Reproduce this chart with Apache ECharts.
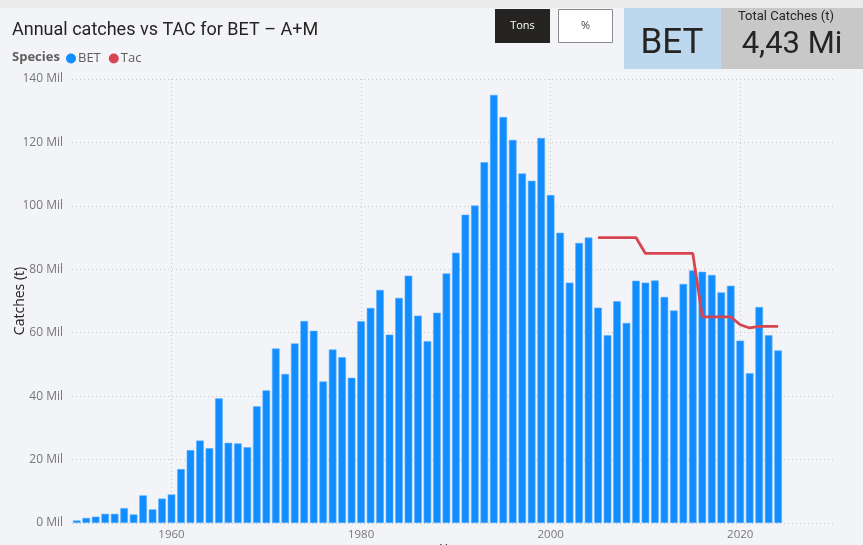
<!DOCTYPE html>
<html>
<head>
<meta charset="utf-8">
<script src="https://cdn.jsdelivr.net/npm/echarts@6/dist/echarts.min.js"></script>
<style>
  html, body { margin: 0; padding: 0; background: #f3f4f8; }
  #chart { width: 863px; height: 545px; }
</style>
</head>
<body>
<div id="chart"></div>
<script>
// Bigeye tuna (BET) annual catches, in thousands of tonnes ("Mil")
const years = [
  1950, 1951, 1952, 1953, 1954, 1955, 1956, 1957, 1958, 1959,
  1960, 1961, 1962, 1963, 1964, 1965, 1966, 1967, 1968, 1969,
  1970, 1971, 1972, 1973, 1974, 1975, 1976, 1977, 1978, 1979,
  1980, 1981, 1982, 1983, 1984, 1985, 1986, 1987, 1988, 1989,
  1990, 1991, 1992, 1993, 1994, 1995, 1996, 1997, 1998, 1999,
  2000, 2001, 2002, 2003, 2004, 2005, 2006, 2007, 2008, 2009,
  2010, 2011, 2012, 2013, 2014, 2015, 2016, 2017, 2018, 2019,
  2020, 2021, 2022, 2023, 2024
];
const catches = [
  0.8, 1.6, 2.0, 2.9, 2.9, 4.7, 2.7, 8.7, 4.3, 7.7,
  9.0, 17.0, 23.0, 26.0, 23.6, 39.3, 25.3, 25.1, 23.9, 36.8,
  41.8, 55.0, 47.0, 56.6, 63.7, 60.6, 44.6, 54.7, 52.3, 45.8,
  63.6, 67.8, 73.5, 59.4, 71.0, 78.0, 65.4, 57.3, 66.3, 78.7,
  85.2, 97.2, 100.1, 113.8, 135.0, 128.0, 120.8, 110.2, 107.9, 121.4,
  103.4, 91.5, 75.8, 88.3, 90.0, 67.9, 59.2, 69.9, 63.1, 76.4,
  75.8, 76.5, 71.3, 67.0, 75.4, 79.6, 79.2, 78.2, 72.7, 74.8,
  57.5, 47.2, 68.1, 59.2, 54.4
];

// Total allowable catch (TAC), thousands of tonnes
const tacYears = [2005, 2006, 2007, 2008, 2009, 2010, 2011, 2012, 2013, 2014,
                  2015, 2016, 2017, 2018, 2019, 2020, 2021, 2022, 2023, 2024];
const tacValues = [90, 90, 90, 90, 90, 85, 85, 85, 85, 85,
                   85, 65, 65, 65, 65, 62.5, 61.5, 62, 62, 62];

const yearTicks = [1960, 1980, 2000, 2020];
const yTickStep = 20;

const barData = years.map((y, i) => [y, catches[i]]);
const tacData = tacYears.map((y, i) => [y, tacValues[i]]);

const uiFont = '"Open Sans", "Noto Sans", sans-serif';
const headFont = 'Roboto, "Noto Sans", sans-serif';

const chart = echarts.init(document.getElementById('chart'), null, { renderer: 'canvas' });

chart.setOption({
  backgroundColor: '#f3f4f8',
  animation: false,
  title: {
    text: 'Annual catches vs TAC for BET – A+M',
    left: 12, top: 21, padding: 0,
    textStyle: { fontFamily: headFont, fontSize: 18, fontWeight: 'normal', color: '#252423' }
  },
  legend: {
    left: 66, top: 52, padding: 0,
    icon: 'circle',
    itemWidth: 10, itemHeight: 10, itemGap: 8,
    itemStyle: { borderWidth: 0 },
    textStyle: { fontFamily: uiFont, fontSize: 13, color: '#605e5c', padding: [0, 0, 0, -3] },
    data: ['BET', 'Tac']
  },
  grid: { left: 72, right: 28, top: 79, bottom: 22, outerBoundsMode: 'none', containLabel: false },
  xAxis: {
    type: 'value',
    min: 1949.5, max: 2030,
    name: 'Year',
    nameLocation: 'middle',
    nameGap: 20,
    nameMoveOverlap: false,
    nameTextStyle: { fontFamily: uiFont, fontSize: 13, color: '#252423', verticalAlign: 'top' },
    axisLine: { show: false },
    axisTick: { show: false, customValues: yearTicks },
    axisLabel: {
      customValues: yearTicks,
      margin: 6,
      fontFamily: uiFont, fontSize: 11.5, color: '#777777',
      formatter: v => String(v)
    },
    splitLine: { show: true, lineStyle: { type: [1, 3], color: '#c8c8cc', width: 1 } }
  },
  yAxis: {
    type: 'value',
    min: 0, max: 140, interval: yTickStep,
    name: 'Catches (t)',
    nameLocation: 'middle',
    nameGap: 45,
    nameMoveOverlap: false,
    nameTextStyle: { fontFamily: uiFont, fontSize: 14, color: '#252423' },
    axisLine: { show: false },
    axisTick: { show: false },
    axisLabel: {
      margin: 9,
      fontFamily: uiFont, fontSize: 12, color: '#777777',
      formatter: v => v + ' Mil'
    },
    splitLine: { show: true, lineStyle: { type: [1, 3], color: '#c8c8cc', width: 1 } }
  },
  series: [
    {
      name: 'BET',
      type: 'bar',
      data: barData,
      barWidth: 7.6,
      itemStyle: { color: '#118dff', borderColor: '#5aaeff', borderWidth: 0.6 },
      z: 2
    },
    {
      name: 'Tac',
      type: 'line',
      data: tacData,
      showSymbol: false,
      symbol: 'circle',
      itemStyle: { color: '#d64550' },
      lineStyle: { color: '#d64550', width: 2.8 },
      z: 3
    }
  ],
  graphic: [
    // top strip
    { type: 'rect', left: 0, top: 0, shape: { width: 863, height: 8 }, style: { fill: '#ebebeb' }, z: 10 },
    // legend heading
    { type: 'text', left: 12, top: 51, style: { text: 'Species', fontFamily: uiFont, fontSize: 13, fontWeight: 'bold', fill: '#605e5c' }, z: 10 },
    // unit toggle buttons
    { type: 'rect', shape: { x: 495, y: 9, width: 55, height: 34 }, style: { fill: '#252423' }, z: 10 },
    { type: 'text', x: 522.5, y: 26, style: { text: 'Tons', fontFamily: uiFont, fontSize: 11, fill: '#ffffff', align: 'center', verticalAlign: 'middle' }, z: 11 },
    { type: 'rect', shape: { x: 558.5, y: 9.5, width: 54, height: 33 }, style: { fill: '#ffffff', stroke: '#8a8a8a', lineWidth: 1 }, z: 10 },
    { type: 'text', x: 585.5, y: 26, style: { text: '%', fontFamily: uiFont, fontSize: 11, fill: '#444444', align: 'center', verticalAlign: 'middle' }, z: 11 },
    // species card
    { type: 'rect', shape: { x: 624, y: 8, width: 97, height: 61 }, style: { fill: '#bdd7ee' }, z: 10 },
    { type: 'text', x: 672, y: 44, style: { text: 'BET', fontFamily: headFont, fontSize: 35, fill: '#252423', align: 'center', verticalAlign: 'middle' }, z: 11 },
    // total catches card
    { type: 'rect', shape: { x: 721, y: 8, width: 142, height: 61 }, style: { fill: '#c8c8c8' }, z: 10 },
    { type: 'text', x: 786, y: 17, style: { text: 'Total Catches (t)', fontFamily: headFont, fontSize: 13, fill: '#252423', align: 'center', verticalAlign: 'middle' }, z: 11 },
    { type: 'text', x: 792, y: 45, style: { text: '4,43 Mi', fontFamily: headFont, fontSize: 31, fill: '#252423', align: 'center', verticalAlign: 'middle' }, z: 11 }
  ]
});
</script>
</body>
</html>
